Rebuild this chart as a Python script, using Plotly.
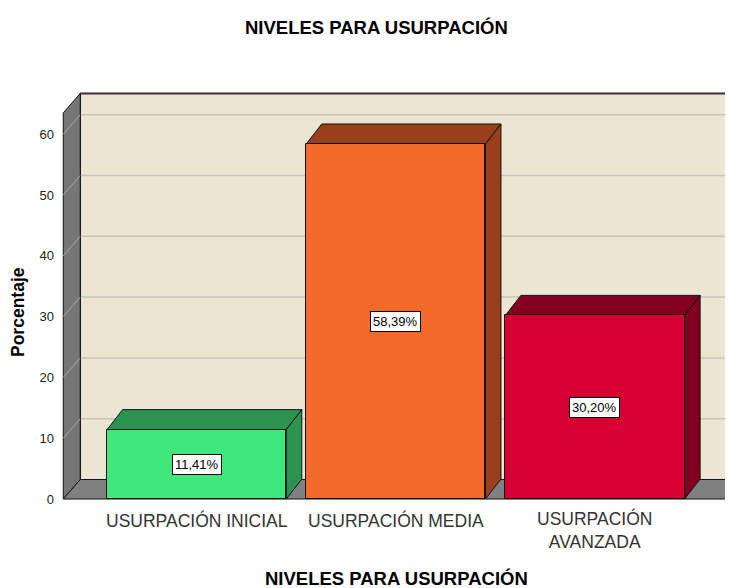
import plotly.graph_objects as go

# ---- data ----
categories = ["USURPACIÓN INICIAL", "USURPACIÓN MEDIA", "USURPACIÓN<br>AVANZADA"]
percentages = [11.41, 58.39, 30.20]
y_ticks = [0, 10, 20, 30, 40, 50, 60]

front_colors = ["#40E87C", "#F36A2B", "#D70033"]
dark_colors = ["#2A9350", "#9A3F1B", "#840020"]

# ---- layout geometry (page body has an 8px margin, so figure is drawn 8px in) ----
OFF = 8
W, H = 733 - OFF, 588 - OFF
ML, MR, MT, MB = 59 - OFF, 0, 90 - OFF, 86
XRANGE = [-0.6914, 2.693]
YRANGE = [-0.49, 67.27]
px_x = (W - ML - MR) / (XRANGE[1] - XRANGE[0])
px_y = (H - MT - MB) / (YRANGE[1] - YRANGE[0])

XL, XR = -0.67, 2.67       # floor front edge extent
YMAX = 63.5                # wall height (front scale)
BAR_W = 0.9
dxw, dyw = 17 / px_x, 19.5 / px_y    # wall depth
dxb, dyb = 15.5 / px_x, 20 / px_y    # bar depth

SANS = "Liberation Sans, Arial, sans-serif"


def poly(pts, fill, line="#111111", lw=1):
    d = "M " + " L ".join(f"{x},{y}" for x, y in pts) + " Z"
    return dict(type="path", path=d, xref="x", yref="y", fillcolor=fill,
                line=dict(color=line, width=lw), layer="below")


def seg(x0, y0, x1, y1, color, lw):
    return dict(type="line", x0=x0, y0=y0, x1=x1, y1=y1, xref="x", yref="y",
                line=dict(color=color, width=lw), layer="below")


shapes = []
# back wall
shapes.append(poly([(XL + dxw, dyw), (XR + dxw, dyw), (XR + dxw, YMAX + dyw), (XL + dxw, YMAX + dyw)],
                   "#EBE5D2", line="#EBE5D2", lw=0))
for v in y_ticks[1:]:
    shapes.append(seg(XL + dxw, v + dyw, XR + dxw, v + dyw, "#C6C3BA", 1.5))
shapes.append(seg(XL + dxw, YMAX + dyw, XR + dxw, YMAX + dyw, "#333333", 2))
shapes.append(seg(XL + dxw, dyw, XL + dxw, YMAX + dyw, "#222222", 1.5))
# left wall
shapes.append(poly([(XL, 0), (XL, YMAX), (XL + dxw, YMAX + dyw), (XL + dxw, dyw)], "#767676"))
for v in y_ticks[1:]:
    shapes.append(seg(XL, v, XL + dxw, v + dyw, "#A8A8A8", 1))
# floor
shapes.append(poly([(XL, 0), (XR, 0), (XR + dxw, dyw), (XL + dxw, dyw)], "#808080"))

# bar top & side faces
for i, v in enumerate(percentages):
    x0, x1 = i - BAR_W / 2, i + BAR_W / 2
    shapes.append(poly([(x0, v), (x1, v), (x1 + dxb, v + dyb), (x0 + dxb, v + dyb)], dark_colors[i]))
    shapes.append(poly([(x1, 0), (x1, v), (x1 + dxb, v + dyb), (x1 + dxb, dyb)], dark_colors[i]))

fig = go.Figure()
fig.add_trace(go.Bar(
    x=list(range(len(categories))), y=percentages, width=BAR_W,
    marker=dict(color=front_colors, line=dict(color="#111111", width=1)),
    hoverinfo="skip", showlegend=False,
))

annotations = []
# data labels
for i, v in enumerate(percentages):
    annotations.append(dict(
        x=i, y=v / 2, xref="x", yref="y", showarrow=False,
        text=f"{v:.2f}%".replace(".", ","),
        font=dict(family=SANS, size=13, color="#000000"),
        bgcolor="#FFFFFF", bordercolor="#000000", borderwidth=1, borderpad=2,
    ))
# category labels
for i, lab in enumerate(categories):
    annotations.append(dict(
        x=i, y=0, xref="x", yref="y", showarrow=False, yanchor="top",
        yshift=-9 if "<br>" not in lab else -7, text=lab,
        font=dict(family=SANS, size=17.5, color="#333333"),
    ))
# titles
plot_w = W - ML - MR
annotations.append(dict(x=(376 - OFF - ML) / plot_w, y=1, xref="paper", yref="paper",
                        yanchor="middle", showarrow=False, yshift=MT - (27 - OFF),
                        text="<b>NIVELES PARA USURPACIÓN</b>",
                        font=dict(family=SANS, size=18.5, color="#000000")))
annotations.append(dict(x=0.5, y=0, xref="paper", yref="paper", yanchor="middle", showarrow=False,
                        yshift=-((578 - OFF) - (H - MB)), text="<b>NIVELES PARA USURPACIÓN</b>",
                        font=dict(family=SANS, size=18.5, color="#000000")))
annotations.append(dict(x=0, y=(H - MB - (312 - OFF)) / (H - MT - MB), xref="paper", yref="paper",
                        showarrow=False, textangle=-90, xanchor="center",
                        xshift=-(ML - (18 - OFF)), text="<b>Porcentaje</b>",
                        font=dict(family=SANS, size=17.5, color="#000000")))

fig.update_layout(
    width=W, height=H,
    margin=dict(l=ML, r=MR, t=MT, b=MB, pad=0),
    paper_bgcolor="#FFFFFF", plot_bgcolor="#FFFFFF",
    shapes=shapes, annotations=annotations,
    xaxis=dict(range=XRANGE, showgrid=False, zeroline=False, showline=False,
               showticklabels=False, ticks="", fixedrange=True),
    yaxis=dict(range=YRANGE, tickvals=y_ticks, ticktext=[str(t) for t in y_ticks],
               showgrid=False, zeroline=False, showline=False, ticks="", ticklabelstandoff=4,
               tickfont=dict(family=SANS, size=13, color="#222222"), fixedrange=True),
    bargap=0,
)

fig.write_html("out.html")
